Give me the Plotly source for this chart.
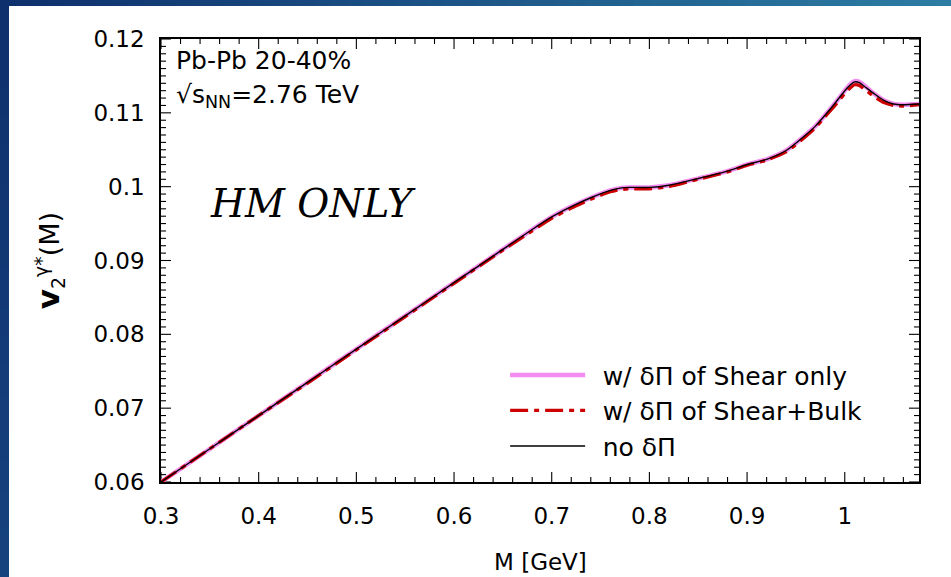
import plotly.graph_objects as go

# Invariant mass grid [GeV]
mass = [0.30, 0.35, 0.40, 0.45, 0.50, 0.55, 0.60, 0.65, 0.68, 0.70, 0.72,
        0.74, 0.76, 0.77, 0.78, 0.80, 0.82, 0.85, 0.88, 0.90, 0.92, 0.94,
        0.96, 0.97, 0.98, 0.99, 1.00, 1.005, 1.01, 1.015, 1.02, 1.03, 1.04,
        1.05, 1.06, 1.076]

# v2 of virtual photons, no viscous correction
v2_no_dpi = [0.0600, 0.0645, 0.0690, 0.0735, 0.0780, 0.0825, 0.0870, 0.0915,
             0.0942, 0.0959, 0.0973, 0.0985, 0.0995, 0.0998, 0.0999, 0.0999,
             0.1002, 0.1011, 0.1021, 0.1030, 0.1037, 0.1049, 0.1070, 0.1082,
             0.1097, 0.1113, 0.1130, 0.1137, 0.1142, 0.1141, 0.1136, 0.1126,
             0.1117, 0.1112, 0.1111, 0.1112]

# shear-only correction
v2_shear = [0.0600, 0.0645, 0.0690, 0.0735, 0.0780, 0.0825, 0.0870, 0.0915,
            0.0942, 0.0959, 0.0973, 0.0985, 0.0995, 0.0998, 0.0999, 0.0999,
            0.1002, 0.1011, 0.1021, 0.1030, 0.1037, 0.1049, 0.1070, 0.1082,
            0.1097, 0.1113, 0.1130, 0.1138, 0.1143, 0.1142, 0.1137, 0.1126,
            0.1117, 0.1112, 0.1111, 0.1112]

# shear + bulk correction
v2_shear_bulk = [0.0600, 0.0645, 0.0690, 0.0734, 0.0779, 0.0824, 0.0869, 0.0914,
                 0.0940, 0.0957, 0.0971, 0.0983, 0.0993, 0.0996, 0.0997, 0.0997,
                 0.1000, 0.1010, 0.1020, 0.1029, 0.1036, 0.1047, 0.1068, 0.1080,
                 0.1095, 0.1110, 0.1126, 0.1133, 0.1138, 0.1137, 0.1132, 0.1122,
                 0.1114, 0.1110, 0.1109, 0.1111]

series_names = ["w/ δΠ of Shear only", "w/ δΠ of Shear+Bulk", "no δΠ"]

x_range = [0.3, 1.076]
y_range = [0.06, 0.12]
x_major_step, x_minor_step = 0.1, 0.02
y_major_step, y_minor_step = 0.01, 0.001

FONT = "DejaVu Sans"
GAP = "\u2002"  # spacing between legend sample and label

W, H = 951, 577
L, R, T, B = 161, 32, 39, 95
pw, ph = W - L - R, H - T - B

# data units per pixel, used for tick lengths
dx_px = (x_range[1] - x_range[0]) / pw
dy_px = (y_range[1] - y_range[0]) / ph


def tick_positions(lo, hi, step):
    n = int(round((hi - lo) / step + 1e-9))
    return [round(lo + k * step, 6) for k in range(n + 1) if lo + k * step <= hi + 1e-9]


x_major = tick_positions(x_range[0], x_range[1], x_major_step)
x_minor = [v for v in tick_positions(x_range[0], x_range[1], x_minor_step)
           if all(abs(v - m) > 1e-6 for m in x_major)]
y_major = tick_positions(y_range[0], y_range[1], y_major_step)
y_minor = [v for v in tick_positions(y_range[0], y_range[1], y_minor_step)
           if all(abs(v - m) > 1e-7 for m in y_major)]

# inside ticks on all four sides of the frame (major 10 px, minor 5 px)
tick_x, tick_y = [], []
for vals, length in ((x_major, 10), (x_minor, 5)):
    for v in vals:
        for y0, y1 in ((y_range[0], y_range[0] + length * dy_px),
                       (y_range[1] - length * dy_px, y_range[1])):
            tick_x += [v, v, None]
            tick_y += [y0, y1, None]
for vals, length in ((y_major, 10), (y_minor, 5)):
    for v in vals:
        for x0, x1 in ((x_range[0], x_range[0] + length * dx_px),
                       (x_range[1] - length * dx_px, x_range[1])):
            tick_x += [x0, x1, None]
            tick_y += [v, v, None]

fig = go.Figure()
fig.add_trace(go.Scatter(x=tick_x, y=tick_y, mode="lines", showlegend=False,
                         hoverinfo="skip", connectgaps=False,
                         line=dict(color="black", width=1.1)))
fig.add_trace(go.Scatter(
    x=mass, y=v2_shear, mode="lines", name=GAP + series_names[0],
    line=dict(color="#f58cef", width=4.5, shape="spline", smoothing=0.6)))
fig.add_trace(go.Scatter(
    x=mass, y=v2_shear_bulk, mode="lines", name=GAP + series_names[1],
    line=dict(color="#cc0000", width=3.2, dash="18px,6px,5px,6px",
              shape="spline", smoothing=0.6)))
fig.add_trace(go.Scatter(
    x=mass, y=v2_no_dpi, mode="lines", name=GAP + series_names[2],
    line=dict(color="black", width=1.4, shape="spline", smoothing=0.6)))

shapes = []

# slide frame: gradient bands along the top and left edges
n_seg = 60
c0, c1 = (14, 48, 108), (44, 124, 164)
for i in range(n_seg):
    f = i / (n_seg - 1)
    col = tuple(round(a + (b - a) * f) for a, b in zip(c0, c1))
    px0 = i * W / n_seg
    px1 = (i + 1) * W / n_seg + 1
    shapes.append(dict(type="rect", xref="paper", yref="paper",
                       x0=(px0 - L) / pw, x1=(px1 - L) / pw,
                       y0=(H - B - 6) / ph, y1=(H - B) / ph + 0.2,
                       line_width=0, fillcolor="rgb(%d,%d,%d)" % col))
l0, l1 = (14, 48, 108), (22, 66, 126)
for i in range(n_seg):
    f = i / (n_seg - 1)
    col = tuple(round(a + (b - a) * f) for a, b in zip(l0, l1))
    py0 = i * H / n_seg
    py1 = (i + 1) * H / n_seg + 1
    shapes.append(dict(type="rect", xref="paper", yref="paper",
                       x0=-L / pw - 0.05, x1=(9 - L) / pw,
                       y0=(H - B - py1) / ph, y1=(H - B - py0) / ph,
                       line_width=0, fillcolor="rgb(%d,%d,%d)" % col))

fig.update_layout(
    width=W, height=H,
    margin=dict(l=L, r=R, t=T, b=B),
    paper_bgcolor="white", plot_bgcolor="white",
    shapes=shapes,
    xaxis=dict(range=x_range, showline=True, linecolor="black", linewidth=1.5,
               mirror=True, ticks="", tickmode="linear", tick0=x_range[0],
               dtick=x_major_step, ticklabelstandoff=13, automargin=False,
               tickfont=dict(family=FONT, size=23, color="black"),
               showgrid=False, zeroline=False),
    yaxis=dict(range=y_range, showline=True, linecolor="black", linewidth=1.5,
               mirror=True, ticks="", tickmode="linear", tick0=y_range[0],
               dtick=y_major_step, ticklabelstandoff=10, automargin=False,
               tickfont=dict(family=FONT, size=23, color="black"),
               title=dict(text='<b><span style="font-size:31px">v</span></b><sub>2</sub><sup>γ*</sup>(M)',
                          standoff=26,
                          font=dict(family=FONT, size=27, color="black")),
               showgrid=False, zeroline=False),
    legend=dict(x=0.454, y=0.293, xanchor="left", yanchor="top",
                bgcolor="rgba(0,0,0,0)", itemwidth=75,
                font=dict(family=FONT, size=25, color="black"),
                tracegroupgap=0),
    showlegend=True,
    annotations=[
        dict(text="M [GeV]", xref="paper", yref="paper",
             x=0.5, y=(H - B - 562) / ph, xanchor="center", yanchor="middle",
             showarrow=False, font=dict(family=FONT, size=23, color="black")),
        dict(text="Pb-Pb 20-40%", xref="paper", yref="paper",
             x=(174 - L) / pw, y=(H - B - 44) / ph, xanchor="left", yanchor="top",
             showarrow=False, font=dict(family=FONT, size=25, color="black")),
        dict(text="√s<sub>NN</sub>=2.76 TeV", xref="paper", yref="paper",
             x=(174 - L) / pw, y=(H - B - 78) / ph, xanchor="left", yanchor="top",
             showarrow=False, font=dict(family=FONT, size=25, color="black")),
        dict(text="<i>HM ONLY</i>", xref="paper", yref="paper",
             x=(208 - L) / pw, y=(H - B - 203) / ph, xanchor="left", yanchor="middle",
             showarrow=False, font=dict(family="DejaVu Serif", size=39, color="black")),
    ],
)

fig.write_html("out.html")
